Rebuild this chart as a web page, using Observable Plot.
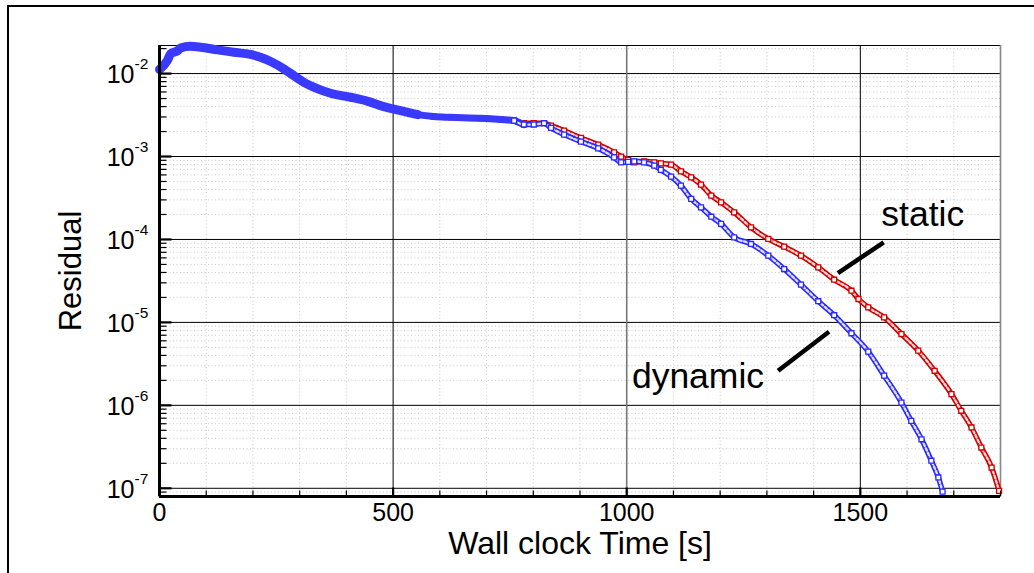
<!DOCTYPE html>
<html><head><meta charset="utf-8">
<script src="https://cdn.jsdelivr.net/npm/d3@7"></script>
<script src="https://cdn.jsdelivr.net/npm/@observablehq/plot@0.6"></script>
<style>
html,body{margin:0;padding:0;background:#fff;}
#wrap{position:relative;width:1034px;height:573px;overflow:hidden;background:#fff;}
#frame{position:absolute;left:7px;top:5px;width:1100px;height:700px;border-top:2px solid #000;border-left:2px solid #000;pointer-events:none;}
</style></head><body><div id="wrap"><div id="frame"></div></div>
<script>
// ---- data ----
const dynamicTime = [0,17,24,39,45,66,88,124,159,195,216,238,266,287,309,339,366,409,446,480,516,553,587,624,688,731,759,780,801,823,838,866,902,939,973,988,1003,1016,1037,1059,1073,1095,1116,1138,1159,1181,1202,1230,1266,1303,1337,1373,1410,1444,1481,1517,1551,1588,1609,1631,1652,1667,1676];
const dynamicResidual = [0.0112,0.0144,0.0174,0.0189,0.0203,0.0213,0.0208,0.0193,0.0181,0.0170,0.0157,0.0140,0.0114,0.00946,0.00785,0.00654,0.00579,0.00518,0.00463,0.00400,0.00358,0.00320,0.00303,0.00297,0.00289,0.00279,0.00271,0.00243,0.00243,0.00252,0.00221,0.00184,0.00151,0.001256,0.000975,0.000851,0.00086,0.000875,0.000851,0.000777,0.00069,0.000572,0.000446,0.000308,0.000244,0.000188,0.000154,0.000106,8.82e-5,6.38e-5,4.4e-5,2.85e-5,1.8e-5,1.22e-5,7.4e-6,4.45e-6,2.28e-6,1.08e-6,6.5e-7,3.9e-7,2.15e-7,1.35e-7,9.1e-8];
const staticTime = [587,624,688,731,759,780,801,823,838,866,902,939,973,988,1003,1016,1037,1059,1073,1095,1116,1138,1159,1181,1202,1230,1266,1303,1337,1373,1410,1444,1481,1496,1517,1551,1588,1624,1659,1695,1716,1738,1759,1781,1797];
const staticResidual = [0.00303,0.00297,0.00289,0.00279,0.00271,0.00252,0.00252,0.00252,0.00236,0.00205,0.001677,0.00139,0.001124,0.000997,0.00091,0.000851,0.000875,0.000851,0.000828,0.000799,0.000663,0.000561,0.000458,0.000338,0.00028,0.000212,0.00014,0.0001014,8.18e-5,6.38e-5,4.61e-5,3.27e-5,2.41e-5,1.915e-5,1.517e-5,1.149e-5,7.24e-6,4.56e-6,2.61e-6,1.368e-6,8.6e-7,5.41e-7,3.1e-7,1.78e-7,9.3e-8];

const xDomain = [0, 1800];
const yDomain = [7.96e-8, 0.0218];
const xTicks = [0, 500, 1000, 1500];
const xTickLabels = ["0", "500", "1000", "1500"];
const yTicks = [1e-2, 1e-3, 1e-4, 1e-5, 1e-6, 1e-7];
const yTickBase = "10";
const yTickExponents = ["-2", "-3", "-4", "-5", "-6", "-7"];
const xTitle = "Wall clock Time [s]";
const yTitle = "Residual";
const annotations = [
  {label: "static",  tx: 1545, ty: 1.467e-4, anchor: "start", x1: 1452, y1: 3.94e-5, x2: 1550, y2: 9.22e-5},
  {label: "dynamic", tx: 1294, ty: 1.63e-6,  anchor: "end",   x1: 1324, y1: 2.61e-6, x2: 1433, y2: 7.73e-6}
];

// ---- tables ----
const dynamicRows = dynamicTime.map((t, i) => ({t, r: dynamicResidual[i]}));
const staticRows = staticTime.map((t, i) => ({t, r: staticResidual[i]}));

const xMinor = d3.range(100, 1801, 100).filter(d => d % 500 !== 0);
const yMinor = [];
for (let e = -8; e <= -2; e++) for (let k = 2; k <= 9; k++) {
  const v = k * Math.pow(10, e);
  if (v > yDomain[0] && v < yDomain[1]) yMinor.push(v);
}

const BLUE = "#2a2aff", BAND = "#3a3aff", RED = "#d00000";
const FONT = "'Liberation Sans', Arial, Helvetica, sans-serif";
const curve = "monotone-x";

const hTick = len => ({draw(ctx) { ctx.moveTo(0, 0); ctx.lineTo(len, 0); }});
const vTick = len => ({draw(ctx) { ctx.moveTo(0, 0); ctx.lineTo(0, -len); }});

// series path drawn as a hollow band with hollow square symbols at the data points
function chain(rows, color, filter) {
  return [
    Plot.line(rows, {x: "t", y: "r", filter, curve, stroke: color, strokeWidth: 5.4}),
    Plot.line(rows, {x: "t", y: "r", filter, curve, stroke: "white", strokeOpacity: 0.85, strokeWidth: 2.3, strokeDasharray: "2.6 2.4"}),
    Plot.dot(rows, {x: "t", y: "r", filter, symbol: "square", r: 2.8, stroke: color, fill: "white", strokeWidth: 1.3})
  ];
}

const chart = Plot.plot({
  width: 1034, height: 573,
  marginLeft: 159, marginRight: 34, marginTop: 45, marginBottom: 77,
  style: {fontFamily: FONT, background: "white", color: "black"},
  x: {type: "linear", domain: xDomain, axis: null},
  y: {type: "log", domain: yDomain, axis: null},
  marks: [
    // minor dotted grid
    Plot.ruleY(yMinor, {y: d => d, stroke: "#c8c8c8", strokeDasharray: "1 2.5"}),
    Plot.ruleX(xMinor, {x: d => d, stroke: "#c8c8c8", strokeDasharray: "1 2.5"}),
    // major grid
    Plot.ruleY(yTicks, {y: d => d, stroke: "black", strokeWidth: 1}),
    Plot.ruleX(xTicks.filter(d => d > xDomain[0]), {x: d => d, stroke: d => d === 1000 ? "#777" : "black", strokeWidth: d => d === 1000 ? 1.6 : 1}),
    // frame
    Plot.ruleY([yDomain[1]], {y: d => d, stroke: "black", strokeWidth: 1}),
    Plot.ruleX([xDomain[1]], {x: d => d, stroke: "#888", strokeWidth: 1.6}),
    // static series (red) underneath
    ...chain(staticRows, RED, d => true),
    // dynamic series (blue)
    Plot.line(dynamicRows, {x: "t", y: "r", filter: d => d.t <= 560, curve, stroke: BAND, strokeWidth: 9}),
    Plot.line(dynamicRows, {x: "t", y: "r", filter: d => d.t >= 516 && d.t <= 780, curve, stroke: BAND, strokeWidth: 7}),
    ...chain(dynamicRows, BLUE, d => d.t >= 759),
    // axes lines
    Plot.ruleX([xDomain[0]], {x: d => d, stroke: "black", strokeWidth: 3}),
    Plot.ruleY([yDomain[0]], {y: d => d, stroke: "black", strokeWidth: 3}),
    // ticks
    Plot.dot(yMinor, {x: () => xDomain[0], y: d => d, symbol: hTick(7), fill: "none", stroke: "black", strokeWidth: 1.2}),
    Plot.dot(yTicks, {x: () => xDomain[0], y: d => d, symbol: hTick(12), fill: "none", stroke: "black", strokeWidth: 2.2}),
    Plot.dot(xMinor, {x: d => d, y: () => yDomain[0], symbol: vTick(6), fill: "none", stroke: "black", strokeWidth: 1.2}),
    Plot.dot(xTicks, {x: d => d, y: () => yDomain[0], symbol: vTick(9), fill: "none", stroke: "black", strokeWidth: 2.2}),
    // tick labels
    Plot.text(xTicks, {x: d => d, y: () => yDomain[0], text: (d, i) => xTickLabels[i], lineAnchor: "bottom", dy: 24.5, fontSize: 25, textAnchor: "middle"}),
    Plot.text(yTicks, {x: () => xDomain[0], y: d => d, text: () => yTickBase, lineAnchor: "bottom", textAnchor: "end", dx: -25, dy: 9.8, fontSize: 25}),
    Plot.text(yTicks, {x: () => xDomain[0], y: d => d, text: (d, i) => yTickExponents[i], lineAnchor: "bottom", textAnchor: "start", dx: -25, dy: -4.5, fontSize: 15.5}),
    // axis titles
    Plot.text([xTitle], {frameAnchor: "bottom", text: d => d, lineAnchor: "bottom", textAnchor: "middle", dy: 57, fontSize: 32}),
    Plot.text([yTitle], {frameAnchor: "left", text: d => d, lineAnchor: "bottom", textAnchor: "middle", rotate: -90, dx: -79, fontSize: 31}),
    // annotations
    Plot.link(annotations, {x1: "x1", y1: "y1", x2: "x2", y2: "y2", stroke: "black", strokeWidth: 4.5}),
    Plot.text(annotations, {filter: d => d.anchor === "start", x: "tx", y: "ty", text: "label", textAnchor: "start", lineAnchor: "bottom", fontSize: 35.5}),
    Plot.text(annotations, {filter: d => d.anchor === "end", x: "tx", y: "ty", text: "label", textAnchor: "end", lineAnchor: "bottom", fontSize: 35.5})
  ]
});
document.getElementById("wrap").prepend(chart);
</script>
</body></html>
